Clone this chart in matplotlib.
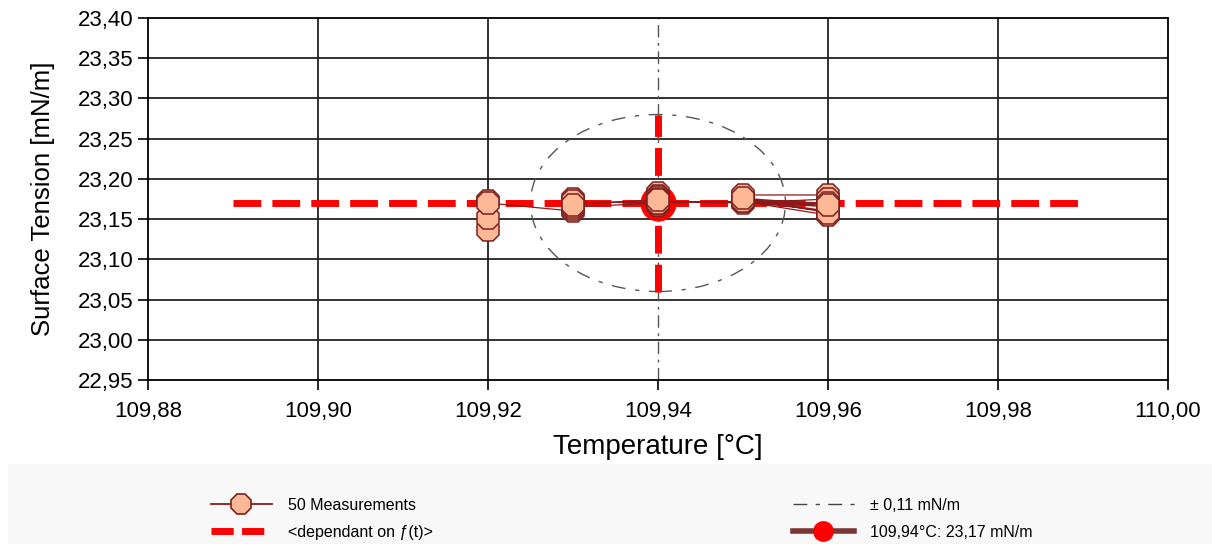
import numpy as np
import matplotlib.pyplot as plt
from matplotlib.patches import Ellipse, Rectangle
from matplotlib.lines import Line2D
from matplotlib.ticker import FuncFormatter

plt.rcParams['font.family'] = ['Liberation Sans', 'DejaVu Sans']

# 50 measurements (temperature, surface tension), in measurement order
temps = [109.92, 109.92, 109.92, 109.92, 109.93, 109.93, 109.93, 109.93, 109.93, 109.94,
         109.94, 109.94, 109.94, 109.94, 109.94, 109.94, 109.94, 109.94, 109.94, 109.94,
         109.94, 109.94, 109.94, 109.94, 109.94, 109.94, 109.94, 109.95, 109.95, 109.95,
         109.95, 109.96, 109.96, 109.95, 109.96, 109.95, 109.96, 109.95, 109.96, 109.95,
         109.96, 109.96, 109.95, 109.96, 109.94, 109.94, 109.94, 109.93, 109.93, 109.94]
tension = [23.137, 23.152, 23.172, 23.170, 23.160, 23.163, 23.175, 23.170, 23.165, 23.170,
           23.172, 23.175, 23.178, 23.180, 23.182, 23.178, 23.175, 23.172, 23.170, 23.168,
           23.170, 23.173, 23.176, 23.179, 23.177, 23.174, 23.171, 23.172, 23.175, 23.178,
           23.180, 23.180, 23.175, 23.170, 23.170, 23.173, 23.165, 23.175, 23.160, 23.172,
           23.155, 23.158, 23.176, 23.168, 23.172, 23.175, 23.170, 23.172, 23.168, 23.174]

mean_t = 109.94
mean_s = 23.17
tol = 0.11          # +- mN/m
t_tol = 0.015       # half width of tolerance ellipse along temperature
line_t = [109.89, 109.99]

xticks = [109.88, 109.90, 109.92, 109.94, 109.96, 109.98, 110.00]
yticks = [22.95, 23.00, 23.05, 23.10, 23.15, 23.20, 23.25, 23.30, 23.35, 23.40]

fig = plt.figure(figsize=(12.12, 5.44), dpi=100)
fig.patches.append(Rectangle((8 / 1212, 0), 1, 80 / 544, transform=fig.transFigure,
                             facecolor='#f8f8f8', edgecolor='none', zorder=0))
ax = fig.add_axes([148 / 1212, 1 - 380 / 544, 1020 / 1212, 362 / 544])

ax.set_xlim(xticks[0], xticks[-1])
ax.set_ylim(yticks[0], yticks[-1])
ax.set_xticks(xticks)
ax.set_yticks(yticks)
comma = FuncFormatter(lambda v, p: f'{v:.2f}'.replace('.', ','))
ax.xaxis.set_major_formatter(comma)
ax.yaxis.set_major_formatter(comma)
ax.tick_params(direction='out', length=7, width=1.2, labelsize=16, colors='black')
ax.tick_params(axis='x', pad=8)

# grid
for y in yticks[1:-1]:
    ax.axhline(y, color='#222222', lw=1.3, zorder=1)
for x in xticks[1:-1]:
    if x != mean_t:
        ax.axvline(x, color='#222222', lw=1.3, zorder=1)
for s in ax.spines.values():
    s.set_linewidth(1.3)

ax.axvline(mean_t, color='#555555', lw=1, ls=(0, (9, 4, 2, 4)), zorder=1)
ax.add_patch(Ellipse((mean_t, mean_s), 2 * t_tol, 2 * tol, fill=False,
                     edgecolor='#555555', lw=1, ls=(0, (10, 7, 3, 7)), zorder=2))

ax.plot(line_t, [mean_s, mean_s], color='red', lw=5, dashes=(4, 1.6), zorder=3)
ax.plot([mean_t, mean_t], [mean_s - tol, mean_s + tol], color='red', lw=5,
        dashes=(4, 1.6), zorder=3)
ax.plot([mean_t], [mean_s], 'o', ms=25, color='red', zorder=4)

ax.plot(temps, tension, color='#8b1a1a', lw=0.9, marker='8', ms=17,
        mfc='#fdb896', mec='#7b1f1f', mew=1.1, zorder=5)

ax.set_xlabel('Temperature [°C]', fontsize=20, labelpad=9)
ax.set_ylabel('Surface Tension [mN/m]', fontsize=18.5, labelpad=16)

h1 = Line2D([], [], color='#8b1a1a', lw=1.3, marker='8', ms=16,
            mfc='#fdb896', mec='#7b1f1f', mew=1.2)
h2 = Line2D([], [], color='red', lw=5, dashes=(3.2, 1.2))
h3 = Line2D([], [], color='#444444', lw=1, ls=(0, (10, 6, 3, 6)))
h4 = Line2D([], [], color='#7a3535', lw=4, marker='o', ms=14, mfc='red', mec='red')

common = dict(frameon=False, fontsize=11.5, handlelength=3.8, handletextpad=1.0,
              labelspacing=0.75, borderpad=0, loc='center left')
fig.legend([h1, h2], ['50 Measurements', '<dependant on ƒ(t)>'],
           bbox_to_anchor=(203 / 1212, 1 - 519 / 544), **common)
fig.legend([h3, h4], ['± 0,11 mN/m', '109,94°C: 23,17 mN/m'],
           bbox_to_anchor=(785 / 1212, 1 - 519 / 544), **common)

fig.savefig('out.png', dpi=100)
